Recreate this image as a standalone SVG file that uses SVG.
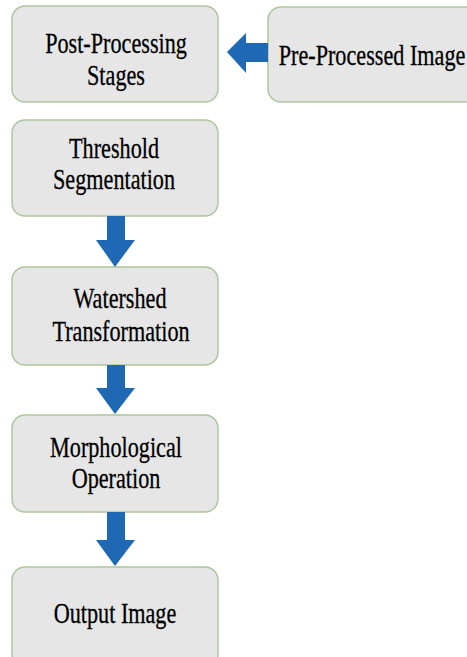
<svg xmlns="http://www.w3.org/2000/svg" width="467" height="657" viewBox="0 0 467 657">
<style>
.box{fill:#e6e6e6;stroke:#aec59f;stroke-width:1.5}
.t{font-size:30px;fill:#000;stroke:#000;stroke-width:0.3;text-anchor:middle}
.arr{fill:#1f68b4}
</style>
<rect width="467" height="657" fill="#ffffff"/>
<g font-family="Liberation Serif">
<g id="post-processing">
<rect class="box" x="12" y="6" width="206" height="96" rx="13"/>
<text class="t" transform="translate(116 53) scale(0.74 1)">Post-Processing</text>
<text class="t" transform="translate(116 85) scale(0.74 1)">Stages</text>
</g>
<g id="pre-processed">
<rect class="box" x="268" y="7" width="210" height="95" rx="13"/>
<text class="t" transform="translate(372 65) scale(0.74 1)">Pre-Processed Image</text>
</g>
<g id="threshold">
<rect class="box" x="12" y="120" width="206" height="96" rx="13"/>
<text class="t" transform="translate(114 158) scale(0.74 1)">Threshold</text>
<text class="t" transform="translate(114 189) scale(0.74 1)">Segmentation</text>
</g>
<g id="watershed">
<rect class="box" x="12" y="267" width="206" height="98" rx="13"/>
<text class="t" transform="translate(120 308) scale(0.74 1)">Watershed</text>
<text class="t" transform="translate(121 341) scale(0.74 1)">Transformation</text>
</g>
<g id="morphological">
<rect class="box" x="12" y="415" width="206" height="97" rx="13"/>
<text class="t" transform="translate(116 457) scale(0.74 1)">Morphological</text>
<text class="t" transform="translate(116 488) scale(0.74 1)">Operation</text>
</g>
<g id="output">
<rect class="box" x="12" y="567" width="206" height="100" rx="13"/>
<text class="t" transform="translate(115 623) scale(0.74 1)">Output Image</text>
</g>
</g>
<g id="connectors">
<polygon class="arr" points="268,43 246,43 246,33 227,52 246,73 246,62 268,62"/>
<polygon class="arr" points="107,216 125,216 125,240 135,240 115,267 96,240 107,240"/>
<polygon class="arr" points="107,365 125,365 125,388 135,388 115,414 96,388 107,388"/>
<polygon class="arr" points="107,512 125,512 125,540 135,540 115,566 96,540 107,540"/>
</g>
</svg>
